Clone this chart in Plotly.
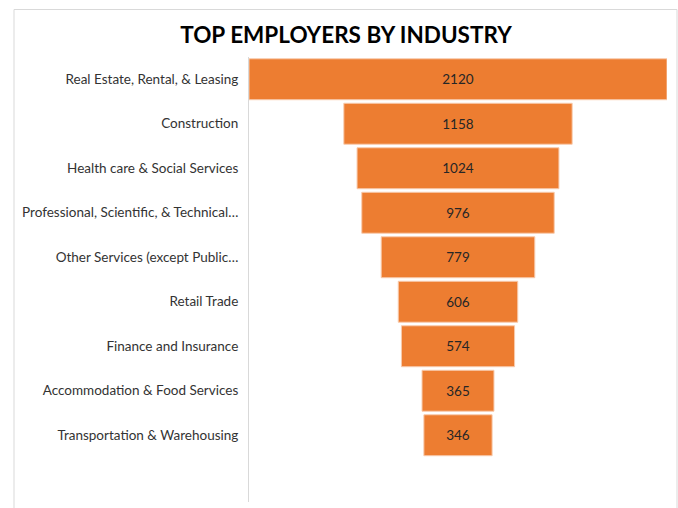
import plotly.graph_objects as go

categories = [
    "Real Estate, Rental, & Leasing",
    "Construction",
    "Health care & Social Services",
    "Professional, Scientific, & Technical…",
    "Other Services (except Public…",
    "Retail Trade",
    "Finance and Insurance",
    "Accommodation & Food Services",
    "Transportation & Warehousing",
]
values = [2120, 1158, 1024, 976, 779, 606, 574, 365, 346]
title_text = "TOP EMPLOYERS BY INDUSTRY"

W, H = 678, 508
L, R, T, B = 249, 11, 57, 6
pw, ph = W - L - R, H - T - B

def px_x(p):
    return (p - L) / pw

def px_y(p):
    return 1 - (p - T) / ph

fig = go.Figure(go.Funnel(
    y=categories,
    x=values,
    textinfo="value",
    textposition="inside",
    insidetextanchor="middle",
    textfont=dict(family="Lato", size=13.5, color="#262626"),
    marker=dict(color="#ED7D31", line=dict(color="#F8CBAD", width=1)),
    connector=dict(visible=False),
    hoverinfo="x+y",
))

fig.update_layout(
    width=W, height=H,
    margin=dict(l=L, r=R, t=T, b=B),
    paper_bgcolor="white",
    plot_bgcolor="white",
    showlegend=False,
    funnelgap=0.08,
    title=dict(
        text="<b>" + title_text + "</b>",
        font=dict(family="Lato", size=22.5, color="#000000"),
        x=346 / W, xref="container", xanchor="center",
        y=1 - 35 / H, yref="container", yanchor="middle",
    ),
    xaxis=dict(visible=False, range=[-1060, 1060], fixedrange=True),
    yaxis=dict(
        range=[9.5, -0.5],
        showline=True, linecolor="#D9D9D9", linewidth=1,
        showgrid=False, zeroline=False,
        ticks="", ticklabelstandoff=7,
        tickfont=dict(family="Lato", size=13.5, color="#333333"),
    ),
    shapes=[
        dict(type="rect", xref="paper", yref="paper",
             x0=px_x(14), x1=px_x(677), y0=px_y(520), y1=px_y(9.5),
             line=dict(color="#D9D9D9", width=1), fillcolor="rgba(0,0,0,0)",
             layer="below"),
    ],
)

fig.write_html(
    "out.html",
    config={"displayModeBar": False},
    post_script="document.body.style.margin='0';document.body.style.overflow='hidden';",
)
